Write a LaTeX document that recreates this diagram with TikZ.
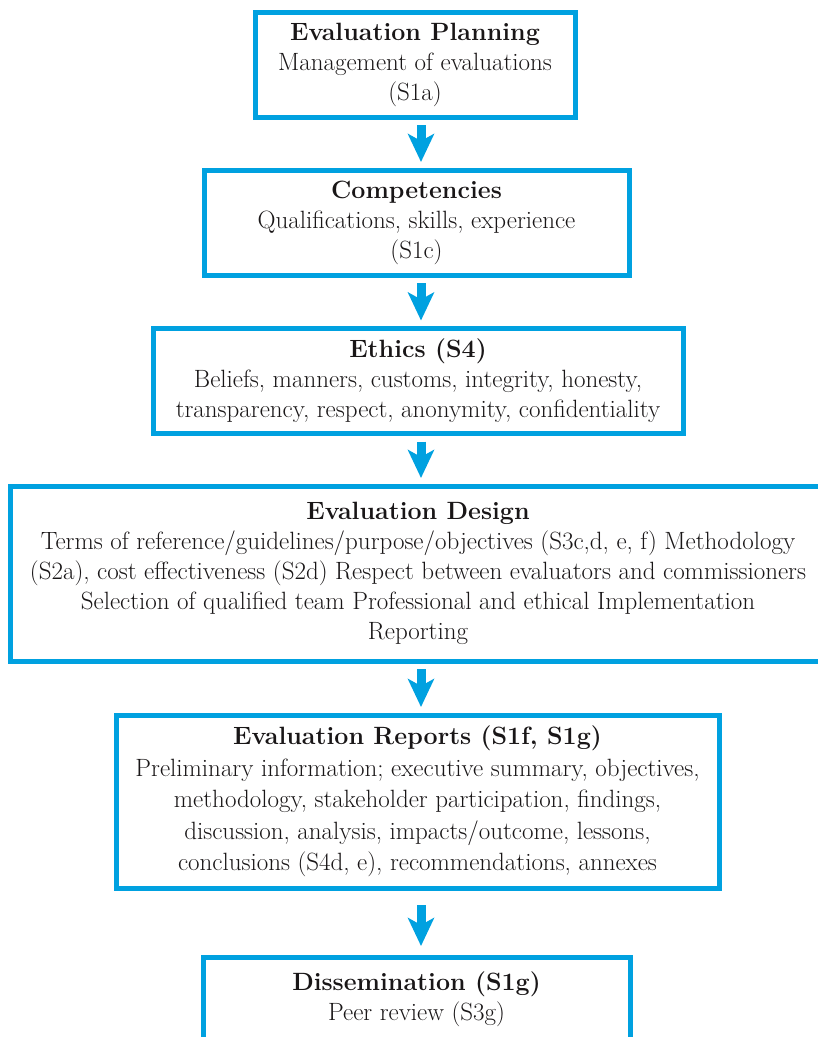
\documentclass[tikz,border=0pt]{standalone}
\usetikzlibrary{arrows.meta}
\definecolor{stdblue}{RGB}{0,161,224}
\definecolor{stdtext}{RGB}{25,22,23}
\begin{document}
\begin{tikzpicture}[x=1pt, y=-1pt,
    stdbox/.style={draw=stdblue, line width=5pt, rectangle, inner sep=0pt, outer sep=0pt,
        align=center, text=stdtext, font=\fontsize{25}{30}\selectfont},
    flow/.style={draw=stdblue, line width=9pt, shorten <=8pt, shorten >=8pt,
        -{Stealth[length=28pt, width=26pt, inset=7pt]}}]
    \clip (0, 0) rectangle (818, 1037);
    \coordinate (ax) at (421, 0);
    % boxes, top to bottom
    \node [stdbox, minimum width=320pt, minimum height=105pt] (plan) at (415, 64.5)
        {\textbf{Evaluation Planning}\\Management of evaluations\\(S1a)};
    \node [stdbox, minimum width=425pt, minimum height=105pt] (comp) at (416.5, 222.5)
        {\textbf{Competencies}\\Qualifications, skills, experience\\(S1c)};
    \node [stdbox, minimum width=530pt, minimum height=105pt] (ethics) at (418, 381)
        {\textbf{Ethics (S4)}\\Beliefs, manners, customs, integrity, honesty,\\transparency, respect, anonymity, confidentiality};
    \node [stdbox, minimum width=816pt, minimum height=175pt] (design) at (418, 573.5)
        {\textbf{Evaluation Design}\\Terms of reference/guidelines/purpose/objectives (S3c,d, e, f) Methodology\\(S2a), cost effectiveness (S2d) Respect between evaluators and commissioners\\Selection of qualified team Professional and ethical Implementation\\Reporting};
    \node [stdbox, minimum width=603pt, minimum height=173pt, font=\fontsize{25}{31.5}\selectfont] (reports) at (417.5, 801.5)
        {\textbf{Evaluation Reports (S1f, S1g)}\\Preliminary information; executive summary, objectives,\\methodology, stakeholder participation, findings,\\discussion, analysis, impacts/outcome, lessons,\\conclusions (S4d, e), recommendations, annexes};
    \node [stdbox, minimum width=427pt, minimum height=84pt] (dissem) at (416.5, 999)
        {\textbf{Dissemination (S1g)}\\Peer review (S3g)};
    % arrows
    \draw [flow] (plan.south -| ax) -- (comp.north -| ax);
    \draw [flow] (comp.south -| ax) -- (ethics.north -| ax);
    \draw [flow] (ethics.south -| ax) -- (design.north -| ax);
    \draw [flow] (design.south -| ax) -- (reports.north -| ax);
    \draw [flow, shorten <=17pt, shorten >=11pt] (reports.south -| ax) -- (dissem.north -| ax);
\end{tikzpicture}
\end{document}
